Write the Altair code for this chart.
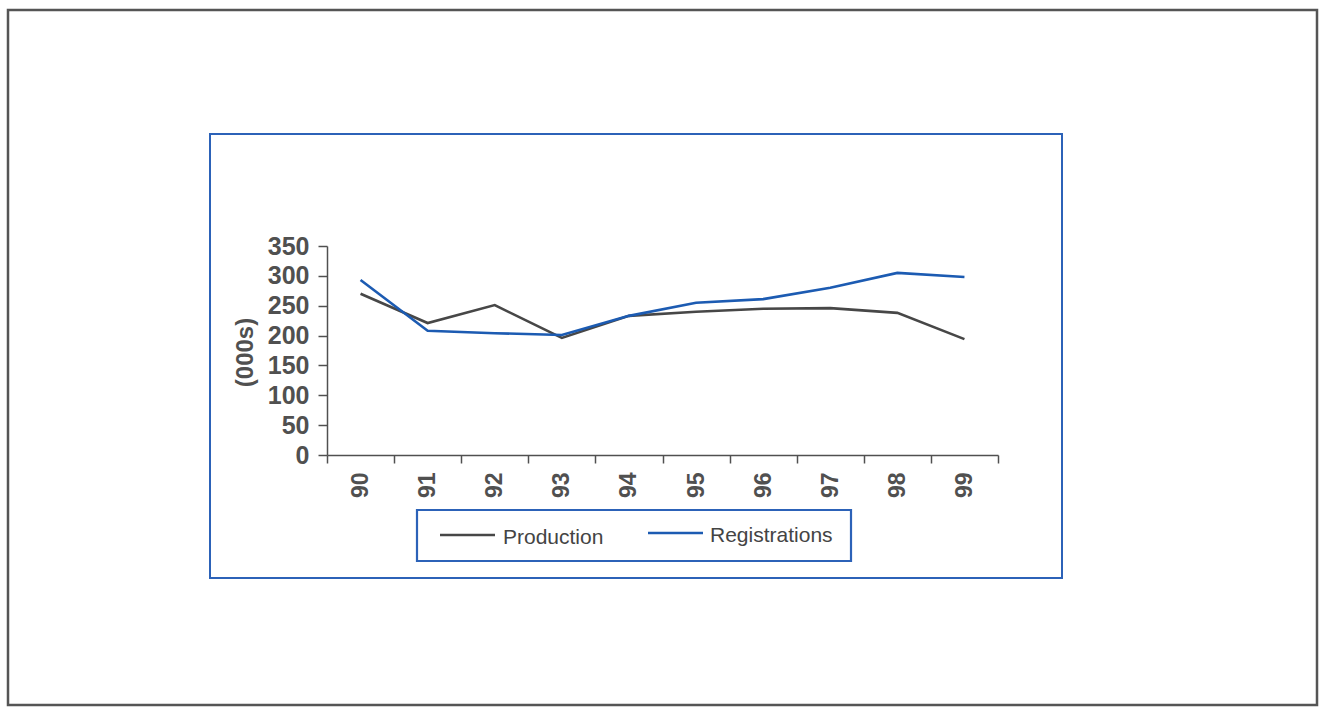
import altair as alt
import pandas as pd

years = ["90", "91", "92", "93", "94", "95", "96", "97", "98", "99"]
production = [270, 221, 251, 196, 233, 240, 245, 246, 238, 194]
registrations = [293, 208, 204, 201, 233, 255, 261, 280, 305, 298]
series_names = ["Production", "Registrations"]
series_colors = ["#474747", "#1c5bb2"]
y_ticks = [0, 50, 100, 150, 200, 250, 300, 350]

rows = []
for y, p, r in zip(years, production, registrations):
    rows.append({"year": y, "series": "Production", "value": p})
    rows.append({"year": y, "series": "Registrations", "value": r})
df = pd.DataFrame(rows)

FONT = "Liberation Sans"
AX = "#505050"
FRAME_BLUE = "#2c62b8"

lines = alt.Chart(df).mark_line(strokeWidth=2.6, clip=False).encode(
    x=alt.X(
        "year:O",
        sort=years,
        bandPosition=0.5,
        scale=alt.Scale(type="band", paddingInner=0, paddingOuter=0),
        axis=alt.Axis(
            title=None,
            tickBand="extent",
            labelAngle=270,
            labelFont=FONT,
            labelFontSize=23,
            labelFontWeight="bold",
            labelColor=AX,
            labelPadding=9,
            tickSize=8,
            tickColor=AX,
            tickWidth=1.5,
            domainColor=AX,
            domainWidth=1.5,
            grid=False,
        ),
    ),
    y=alt.Y(
        "value:Q",
        scale=alt.Scale(domain=[0, 350], nice=False, zero=True),
        axis=alt.Axis(
            title="(000s)",
            values=y_ticks,
            titleFont=FONT,
            titleFontSize=24,
            titleFontWeight="bold",
            titleColor=AX,
            titleAngle=270,
            titleAlign="center",
            titleBaseline="middle",
            titleX=-82,
            titleY=106,
            labelFont=FONT,
            labelFontSize=25,
            labelFontWeight="bold",
            labelColor=AX,
            labelPadding=9,
            tickSize=9,
            tickColor=AX,
            tickWidth=1.5,
            domainColor=AX,
            domainWidth=1.5,
            grid=False,
        ),
    ),
    color=alt.Color(
        "series:N",
        scale=alt.Scale(domain=series_names, range=series_colors),
        legend=None,
    ),
    detail="series:N",
)

# Outer page frame
outer = alt.Chart(pd.DataFrame({"a": [0]})).mark_rect(
    fill=None, stroke="#555555", strokeWidth=2.5
).encode(
    x=alt.value(-319), x2=alt.value(990), y=alt.value(-236), y2=alt.value(459)
)

# Inner blue chart frame
inner = alt.Chart(pd.DataFrame({"a": [0]})).mark_rect(
    fill=None, stroke=FRAME_BLUE, strokeWidth=2
).encode(
    x=alt.value(-117), x2=alt.value(735), y=alt.value(-112), y2=alt.value(332)
)

# Legend box
legend_box = alt.Chart(pd.DataFrame({"a": [0]})).mark_rect(
    fill=None, stroke=FRAME_BLUE, strokeWidth=2.2
).encode(
    x=alt.value(90), x2=alt.value(524), y=alt.value(264), y2=alt.value(315)
)

leg_sym_x = [113, 321]
leg_sym_y = [289, 287]
leg_txt_x = [176, 383]
leg_txt_y = [292, 290]

leg_layers = []
for i, name in enumerate(series_names):
    sym = alt.Chart(pd.DataFrame({"series": [name]})).mark_rule(
        strokeWidth=2.6, color=series_colors[i]
    ).encode(
        x=alt.value(leg_sym_x[i]), x2=alt.value(leg_sym_x[i] + 55),
        y=alt.value(leg_sym_y[i]),
    )
    txt = alt.Chart(pd.DataFrame({"series": [name]})).mark_text(
        font=FONT, fontSize=21, color="#444444", align="left", baseline="middle"
    ).encode(
        x=alt.value(leg_txt_x[i]), y=alt.value(leg_txt_y[i]), text="series:N"
    )
    leg_layers += [sym, txt]

chart = alt.layer(outer, inner, legend_box, lines, *leg_layers).properties(
    width=671,
    height=209,
    autosize=alt.AutoSizeParams(type="none"),
    padding={"left": 327, "top": 246, "right": 322, "bottom": 253},
    background="white",
).configure_view(stroke=None)

chart.save("out.html", embed_options={"renderer": "svg", "actions": False})
